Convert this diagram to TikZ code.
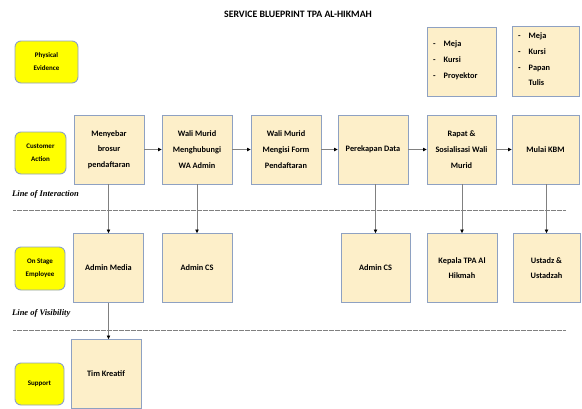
\documentclass[tikz,border=0pt]{standalone}
\usepackage{fontspec}
\setmainfont{Carlito}
\newfontfamily\linefont{Liberation Serif}
\usetikzlibrary{arrows.meta}
\definecolor{boxfill}{HTML}{FDEFC9}
\definecolor{boxdraw}{HTML}{8EA1C2}
\definecolor{lanefill}{HTML}{FFFF00}
\definecolor{conn}{HTML}{808080}
\tikzset{
  procbox/.style={draw=boxdraw, fill=boxfill, line width=0.9pt, minimum width=70pt, minimum height=69pt, inner sep=0pt, align=center, font=\bfseries\fontsize{8.3}{15.7}\selectfont},
  lanebox/.style={draw=boxdraw, fill=lanefill, line width=0.9pt, rounded corners=6pt, inner sep=0pt, align=center, font=\bfseries\fontsize{7}{13}\selectfont},
  flow/.style={conn, line width=0.7pt, -{Triangle[length=3.5pt,width=3.5pt,color=black]}},
  sep/.style={conn, line width=0.9pt, dash pattern=on 0.6pt off 0.6pt},
  linelabel/.style={anchor=west, inner sep=0pt, font=\linefont\bfseries\itshape\fontsize{8.5}{10}\selectfont},
  listtxt/.style={anchor=north west, inner sep=0pt, align=left, font=\bfseries\fontsize{8.3}{15.7}\selectfont}
}
\begin{document}
\begin{tikzpicture}[x=1pt,y=-1pt]
\useasboundingbox (0,0) rectangle (582,408);
\node[font=\bfseries\fontsize{9.8}{12}\selectfont] (title) at (298,14) {SERVICE BLUEPRINT TPA AL-HIKMAH};

% lane labels
\node[lanebox, minimum width=63pt, minimum height=42pt] (pe) at (46.5,62) {Physical\\Evidence};
\node[lanebox, minimum width=51pt, minimum height=42pt] (ca) at (40.5,153) {Customer\\Action};
\node[lanebox, minimum width=50pt, minimum height=43pt] (ose) at (40,268.5) {On Stage\\Employee};
\node[lanebox, minimum width=49pt, minimum height=42pt] (sup) at (39.5,384) {Support};

% physical evidence boxes
\node[procbox, minimum width=69pt] (pe1) at (461.5,61.5) {};
\node[listtxt] (pe1t) at (433,35.5) {\begin{tabular}{@{}l@{\hspace{8pt}}l@{}}-&Meja\\-&Kursi\\-&Proyektor\end{tabular}};
\node[procbox, minimum width=67pt, minimum height=70pt] (pe2) at (545.5,61) {};
\node[listtxt] (pe2t) at (518,27.5) {\begin{tabular}{@{}l@{\hspace{8pt}}l@{}}-&Meja\\-&Kursi\\-&Papan\\&Tulis\end{tabular}};

% customer actions
\node[procbox] (c1) at (109,149.5) {Menyebar\\brosur\\pendaftaran};
\node[procbox] (c2) at (197,149.5) {Wali Murid\\Menghubungi\\WA Admin};
\node[procbox] (c3) at (286,149.5) {Wali Murid\\Mengisi Form\\Pendaftaran};
\node[procbox] (c4) at (373,149.5) {Perekapan Data};
\node[procbox, minimum width=69pt] (c5) at (461.5,149.5) {Rapat \&\\Sosialisasi Wali\\Murid};
\node[procbox, minimum width=67pt] (c6) at (545.5,149.5) {Mulai KBM};

% line of interaction
\node[linelabel] (loi) at (12,194) {Line of Interaction};
\coordinate (loiL) at (13,210.5);
\coordinate (loiR) at (566,210.5);
\draw[sep] (loiL) -- (loiR);

% on stage
\node[procbox] (e1) at (108.5,268) {Admin Media};
\node[procbox] (e2) at (197,268) {Admin CS};
\node[procbox, minimum width=69pt] (e4) at (375.5,268) {Admin CS};
\node[procbox] (e5) at (462,268) {Kepala TPA Al\\Hikmah};
\node[procbox, minimum width=67pt] (e6) at (546.5,268) {Ustadz \&\\Ustadzah};

% line of visibility
\node[linelabel] (lov) at (12,313) {Line of Visibility};
\coordinate (lovL) at (13,330);
\coordinate (lovR) at (566,330);
\draw[sep] (lovL) -- (lovR);

% support
\node[procbox] (s1) at (106,374) {Tim Kreatif};

% flows
\draw[flow] (c1) -- (c2);
\draw[flow] (c2) -- (c3);
\draw[flow] (c3) -- (c4);
\draw[flow] (c4) -- (c5);
\draw[flow] (c5) -- (c6);
\draw[flow] (c1.south -| e1.north) -- (e1.north);
\draw[flow] (c2.south) -- (e2.north);
\draw[flow] (c4.south -| e4.north) -- (e4.north);
\draw[flow] (c5.south -| e5.north) -- (e5.north);
\draw[flow] (c6.south -| e6.north) -- (e6.north);
\draw[flow] (e1.south) -- (e1.south |- s1.north);
\end{tikzpicture}
\end{document}
